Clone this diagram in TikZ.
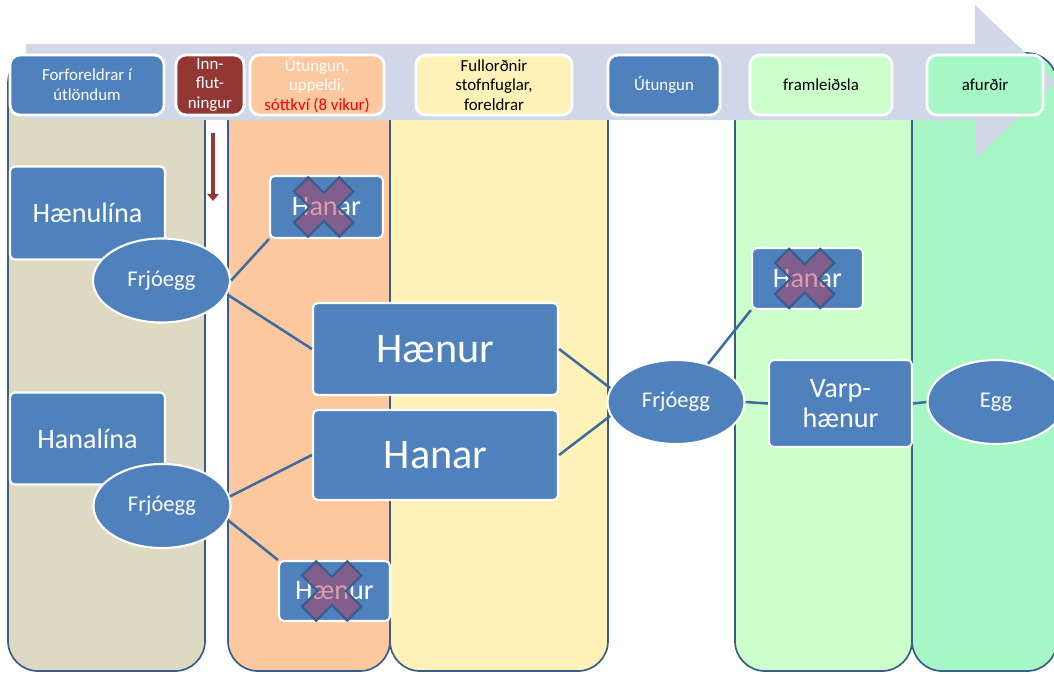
\documentclass[tikz,border=0pt]{standalone}
\usepackage{fontspec}
\setmainfont{Carlito}
\usetikzlibrary{arrows.meta,shapes.geometric}
\definecolor{blar}{HTML}{4F81BD}
\definecolor{dokkblar}{HTML}{385D8A}
\definecolor{linublar}{HTML}{3F6C9E}
\definecolor{brunt}{HTML}{DDD9C3}
\definecolor{appelsina}{HTML}{FBC8A0}
\definecolor{gult}{HTML}{FFF2B9}
\definecolor{ljosgraent}{HTML}{CCFFCC}
\definecolor{graent}{HTML}{A7F6C6}
\definecolor{bandlitur}{HTML}{D0D8E8}
\definecolor{vinrautt}{HTML}{943634}
\definecolor{krossrautt}{HTML}{B43C5A}
\begin{document}
\begin{tikzpicture}[x=0.025cm, y=-0.025cm,
    dalkur/.style={draw=dokkblar, line width=1.2pt, rounded corners=0.75cm},
    haus/.style={draw=white, line width=2pt, rounded corners=0.25cm, align=center,
        font=\fontsize{12}{14}\selectfont, minimum height=1.5cm, inner sep=1pt},
    kassi/.style={fill=blar, draw=white, line width=1.5pt, rounded corners=0.12cm,
        text=white, align=center, font=\fontsize{20}{21}\selectfont, inner sep=0pt},
    storkassi/.style={kassi, minimum width=6.125cm, font=\fontsize{30}{32}\selectfont},
    eggform/.style={ellipse, fill=blar, draw=white, line width=1.5pt, text=white,
        font=\fontsize{16}{18}\selectfont, minimum width=3.425cm, minimum height=2.1cm, inner sep=0pt},
    tenging/.style={draw=linublar, line width=1.8pt},
    krossmerki/.style={draw=dokkblar, line width=1.5pt, fill=krossrautt, fill opacity=0.5}]
\useasboundingbox (0,0) rectangle (1054,673);
\clip (0,0) rectangle (1054,673);
% dalkar
\foreach \a/\b/\lit in {8/205/brunt, 228/390/appelsina, 390/608/gult, 735/912/ljosgraent, 912/1057/graent}
    \draw[dalkur, fill=\lit] (\a,53) rectangle (\b,671);
% tímaör
\fill[bandlitur] (26,44) -- (975,44) -- (975,5) -- (1056,82) -- (975,159) -- (975,120) -- (26,120) -- cycle;
% hausar
\node[haus, fill=blar, text=white, minimum width=3.85cm] (forforeldrar) at (87,85) {Forforeldrar í\\útlöndum};
\node[haus, fill=vinrautt, text=white, minimum width=1.7cm] (innflutningur) at (210,85) {Inn-\\flut-\\ningur};
\node[haus, fill=appelsina, text=white, minimum width=3.35cm] (uppeldi) at (317,85) {Útungun,\\uppeldi,\\\textcolor{red}{sóttkví (8 vikur)}};
\node[haus, fill=gult, minimum width=3.9cm] (stofnfuglar) at (494,85) {Fullorðnir\\stofnfuglar,\\foreldrar};
\node[haus, fill=blar, text=white, minimum width=2.8cm] (utungun) at (664,85) {Útungun};
\node[haus, fill=ljosgraent, minimum width=3.55cm] (framleidsla) at (821,85) {framleiðsla};
\node[haus, fill=graent, minimum width=2.9cm] (afurdir) at (985,85) {afurðir};
\coordinate (innofan) at (213,133);
\coordinate (innnedan) at (213,201);
\draw[vinrautt, line width=2.8pt, -{Triangle[width=8pt,length=5pt]}] (innofan) -- (innnedan);
% hnútar
\node[kassi, minimum width=3.875cm, minimum height=2.325cm] (haenulina) at (87.5,213) {Hænulína};
\node[kassi, minimum width=3.875cm, minimum height=2.3cm] (hanalina) at (87.5,438.5) {Hanalína};
\node[eggform] (frjo1) at (161.5,280.5) {Frjóegg};
\node[eggform] (frjo2) at (162,506) {Frjóegg};
\node[kassi, minimum width=2.825cm, minimum height=1.55cm] (hanarA) at (326.5,207) {Hanar};
\node[kassi, minimum width=2.775cm, minimum height=1.5cm] (haenurX) at (334.5,591) {Hænur};
\node[storkassi, minimum height=2.3cm] (haenurS) at (435.5,349) {Hænur};
\node[storkassi, minimum height=2.25cm] (hanarS) at (435.5,455) {Hanar};
\node[eggform] (frjo3) at (676,402) {Frjóegg};
\node[kassi, minimum width=2.775cm, minimum height=1.525cm] (hanarC) at (807.5,278.5) {Hanar};
\node[kassi, minimum width=3.575cm, minimum height=2.175cm] (varp) at (840.5,403.5) {Varp-\\hænur};
\node[eggform] (egg) at (996,402) {Egg};
% tengingar
\draw[tenging] (frjo1.east) -- (hanarA.south west);
\draw[tenging] (frjo1.-12) -- (haenurS.west);
\draw[tenging] (frjo2.8) -- (hanarS.west);
\draw[tenging] (frjo2.-12) -- (haenurX.north west);
\draw[tenging] (haenurS.east) -- (frjo3.168);
\draw[tenging] (hanarS.east) -- (frjo3.192);
\draw[tenging] (frjo3.50) -- (hanarC.south west);
\draw[tenging] (frjo3.east) -- (varp.west);
\draw[tenging] (varp.east) -- (egg.west);
% krossar
\foreach \k in {hanarA, haenurX, hanarC}
    \draw[krossmerki, shift={(\k.center)}, xshift=-2pt, rotate=45]
        (10,32) -- (10,10) -- (32,10) -- (32,-10) -- (10,-10) -- (10,-32) -- (-10,-32)
        -- (-10,-10) -- (-32,-10) -- (-32,10) -- (-10,10) -- (-10,32) -- cycle;
\end{tikzpicture}
\end{document}
